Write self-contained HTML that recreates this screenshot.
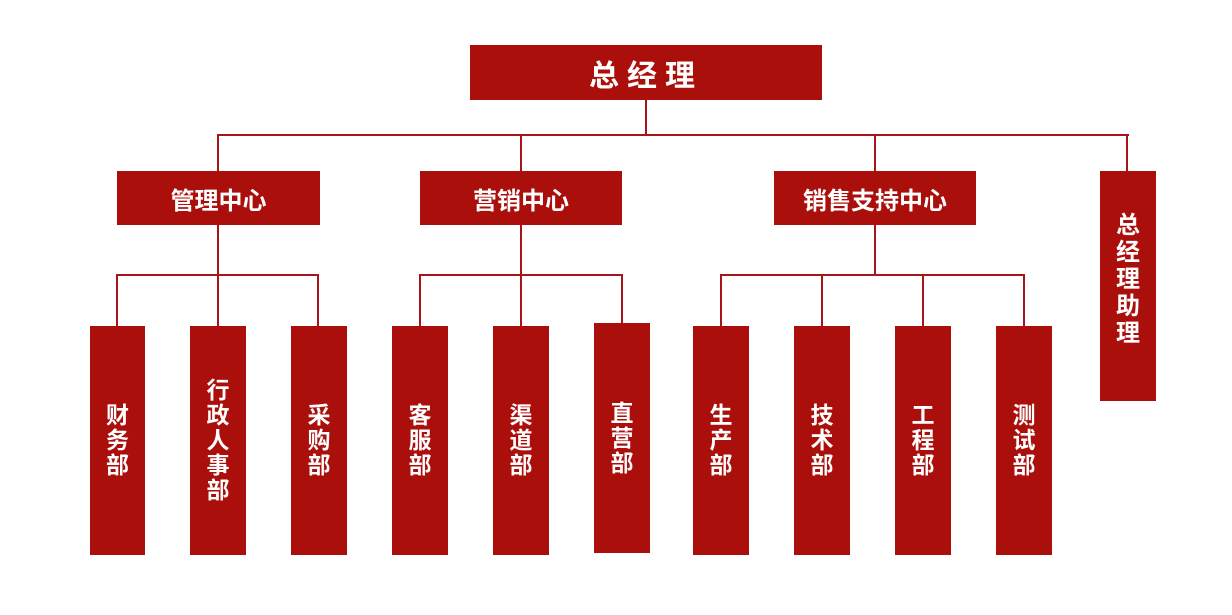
<!DOCTYPE html>
<html><head><meta charset="utf-8"><style>
body{margin:0;width:1232px;height:615px;background:#fff;position:relative;overflow:hidden;font-family:"Liberation Sans","Noto Sans CJK SC",sans-serif}
.b{position:absolute;background:#ab0f0c;color:#fff;display:flex;align-items:center;justify-content:center;text-align:center;font-weight:bold}
.v{font-size:23px;line-height:25px;padding-top:0}
.m{font-size:24px}
.l{position:absolute;background:#a8141a}
</style></head><body>
<div class="b" style="left:470px;top:45px;width:352px;height:55px;font-size:30px;letter-spacing:8px">总经理</div>
<div class="l" style="left:645px;top:100px;width:2px;height:35px"></div>
<div class="l" style="left:217px;top:134px;width:912px;height:2px"></div>
<div class="l" style="left:217px;top:134px;width:2px;height:37px"></div>
<div class="l" style="left:520px;top:134px;width:2px;height:37px"></div>
<div class="l" style="left:874px;top:134px;width:2px;height:37px"></div>
<div class="l" style="left:1126px;top:134px;width:2px;height:37px"></div>

<div class="b m" style="left:117px;top:171px;width:203px;height:54px">管理中心</div>
<div class="b m" style="left:420px;top:171px;width:202px;height:54px">营销中心</div>
<div class="b m" style="left:774px;top:171px;width:202px;height:54px">销售支持中心</div>
<div class="b v" style="left:1100px;top:171px;width:56px;height:230px;font-size:24px;line-height:27px;padding-bottom:14px;box-sizing:border-box">总<br>经<br>理<br>助<br>理</div>

<div class="l" style="left:217px;top:225px;width:2px;height:50px"></div>
<div class="l" style="left:520px;top:225px;width:2px;height:50px"></div>
<div class="l" style="left:874px;top:225px;width:2px;height:50px"></div>

<div class="l" style="left:116px;top:274px;width:203px;height:2px"></div>
<div class="l" style="left:420px;top:274px;width:203px;height:2px"></div>
<div class="l" style="left:720px;top:274px;width:305px;height:2px"></div>

<div class="l" style="left:116px;top:274px;width:2px;height:52px"></div>
<div class="l" style="left:217px;top:274px;width:2px;height:52px"></div>
<div class="l" style="left:317px;top:274px;width:2px;height:52px"></div>
<div class="l" style="left:419px;top:274px;width:2px;height:52px"></div>
<div class="l" style="left:520px;top:274px;width:2px;height:52px"></div>
<div class="l" style="left:621px;top:274px;width:2px;height:50px"></div>
<div class="l" style="left:720px;top:274px;width:2px;height:52px"></div>
<div class="l" style="left:821px;top:274px;width:2px;height:52px"></div>
<div class="l" style="left:922px;top:274px;width:2px;height:52px"></div>
<div class="l" style="left:1023px;top:274px;width:2px;height:52px"></div>

<div class="b v" style="left:90px;top:326px;width:55px;height:229px">财<br>务<br>部</div>
<div class="b v" style="left:190px;top:326px;width:56px;height:229px">行<br>政<br>人<br>事<br>部</div>
<div class="b v" style="left:291px;top:326px;width:56px;height:229px">采<br>购<br>部</div>
<div class="b v" style="left:392px;top:326px;width:56px;height:229px">客<br>服<br>部</div>
<div class="b v" style="left:493px;top:326px;width:56px;height:229px">渠<br>道<br>部</div>
<div class="b v" style="left:594px;top:323px;width:56px;height:230px">直<br>营<br>部</div>
<div class="b v" style="left:693px;top:326px;width:56px;height:229px">生<br>产<br>部</div>
<div class="b v" style="left:794px;top:326px;width:56px;height:229px">技<br>术<br>部</div>
<div class="b v" style="left:895px;top:326px;width:56px;height:229px">工<br>程<br>部</div>
<div class="b v" style="left:996px;top:326px;width:56px;height:229px">测<br>试<br>部</div>
</body></html>
